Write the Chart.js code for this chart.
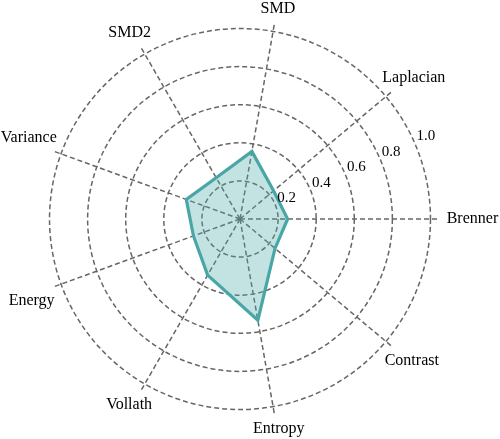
<!DOCTYPE html>
<html>
<head>
<meta charset="utf-8">
<script src="https://cdn.jsdelivr.net/npm/chart.js@4/dist/chart.umd.min.js"></script>
<style>
  body { margin: 0; background: #fff; }
  #wrap { width: 500px; height: 439px; }
</style>
</head>
<body>
<div id="wrap"><canvas id="radarChart"></canvas></div>
<script>
// axes listed clockwise, starting from the right-hand side
let metricLabels = ['Brenner', 'Contrast', 'Entropy', 'Vollath', 'Energy', 'Variance', 'SMD2', 'SMD', 'Laplacian'];
let scoreValues = [0.25, 0.24, 0.54, 0.34, 0.26, 0.30, 0.25, 0.36, 0.23];
let tickValues = [0.2, 0.4, 0.6, 0.8, 1.0];

const gridGray = '#666';
const serif = '"Liberation Serif", "DejaVu Serif", serif';

// axis names and radial tick labels drawn the way the figure places them
const labelPlugin = {
    id: 'labelPlugin',
    afterDraw(chart) {
        const r = chart.scales.r;
        const ctx = chart.ctx;
        ctx.save();
        ctx.fillStyle = '#000';
        ctx.textAlign = 'center';
        ctx.textBaseline = 'middle';

        ctx.font = '16px ' + serif;
        const outer = r.getDistanceFromCenterForValue(r.max);
        metricLabels.forEach((name, i) => {
            const p = r.getPointPosition(i, outer);
            const ang = Math.atan2(r.yCenter - p.y, p.x - r.xCenter);
            const c = Math.cos(ang), s = Math.sin(ang);
            const w = ctx.measureText(name).width;
            const dx = c * (w / 2 * 0.6 + 8) + (Math.abs(s) < 0.1 ? c * 9 : 0);
            const dy = -Math.max(-1, Math.min(1, s * 3)) * 13;
            ctx.fillText(name, p.x + dx, p.y + dy);
        });

        ctx.font = '15px ' + serif;
        const tickAng = 24 * Math.PI / 180;
        tickValues.forEach(v => {
            const d = r.getDistanceFromCenterForValue(v) + 13;
            ctx.fillText(v.toFixed(1), r.xCenter + d * Math.cos(tickAng), r.yCenter - d * Math.sin(tickAng));
        });
        ctx.restore();
    }
};

let radarEl = document.getElementById('radarChart').getContext('2d');

let radarChart = new Chart(radarEl, {
    type: 'radar',
    data: {
        labels: metricLabels,
        datasets: [
            {
                label: 'Score',
                data: scoreValues,
                borderColor: '#48a6a6',
                backgroundColor: 'rgba(74, 168, 168, 0.33)',
                borderWidth: 3.2,
                pointRadius: 0,
                fill: true,
            },
        ]
    },
    options: {
        responsive: true,
        maintainAspectRatio: false,
        animation: false,
        layout: {
            padding: { left: 40, right: 60, top: 19, bottom: 20 }
        },
        scales: {
            r: {
                min: 0,
                max: 1.05,
                startAngle: 90,
                ticks: { display: false, stepSize: 0.2 },
                pointLabels: { display: false },
                grid: {
                    circular: true,
                    lineWidth: 1.5,
                    color: (c) => c.tick && c.tick.value > 1.0001 ? 'rgba(0,0,0,0)' : gridGray,
                },
                border: { dash: [5, 3] },
                angleLines: {
                    color: gridGray,
                    lineWidth: 1.5,
                    borderDash: [5, 3],
                },
            },
        },
        plugins: {
            legend: { display: false },
            tooltip: { enabled: false },
        },
    },
    plugins: [labelPlugin]
});
</script>
</body>
</html>
